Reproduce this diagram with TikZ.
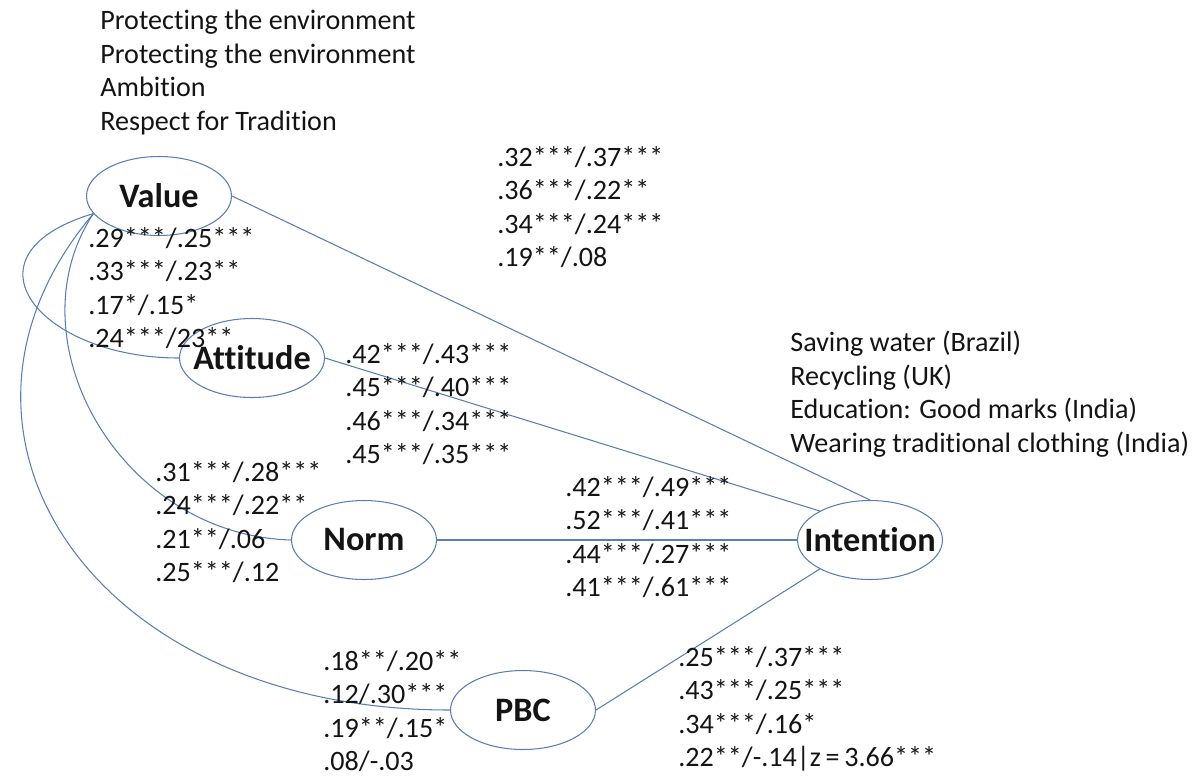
\documentclass[tikz,border=0pt]{standalone}
\usepackage{fontspec}
\setmainfont{Carlito}[Ligatures=NoCommon]
\usetikzlibrary{shapes.geometric,positioning}
\definecolor{linkblue}{HTML}{5A7DB3}
\definecolor{inkdark}{HTML}{141414}

\begin{document}
\begin{tikzpicture}[x=0.02cm,y=-0.02cm,
			lat/.style={draw=linkblue,line width=0.6pt,ellipse,minimum width=2.9cm,minimum height=1.58cm,inner sep=0pt},
			latname/.style={font=\fontsize{19.5}{22}\selectfont\bfseries,text=inkdark,inner sep=0pt},
			coef/.style={align=left,anchor=north west,inner sep=0pt,text=inkdark,font=\fontsize{16}{19}\selectfont},
			rel/.style={draw=linkblue,line width=0.6pt}
			]
			\useasboundingbox (0,0) rectangle (1204,775);
			% constructs
			\node[lat,label={[latname]center:Value}] (val) at (159,196) {};
			\node[lat,label={[latname]center:Attitude}] (att) at (252,358) {};
			\node[lat,label={[latname]center:Norm}] (nor) at (364,540) {};
			\node[lat,label={[latname]center:PBC}] (pbc) at (523,710) {};
			\node[lat,label={[latname]center:Intention}] (int) at (870,540) {};
			% paths
			\draw[rel] (val.east)--(int.north);
			\draw[rel] (att.east)--(int.150);
			\draw[rel] (nor.east)--(int.west);
			\draw[rel] (pbc.east)--(int.210);
			\draw[rel] (val.195) .. controls (-45,255) and (40,358) .. (att.west);
			\draw[rel] (val.195) .. controls (10,340) and (120,535) .. (nor.west);
			\draw[rel] (val.195) .. controls (-90,430) and (90,710) .. (pbc.west);
			% values and behaviours
			\node[coef] (vals) at (100,10) {Protecting the environment\\Protecting the environment\\Ambition\\Respect for Tradition};
			\node[coef] (behs) at (790,331) {Saving water (Brazil)\\Recycling (UK)\\Education: Good marks (India)\\Wearing traditional clothing (India)};
			% coefficients
			\node[coef] (cvi) at (497,146) {.32***/.37***\\.36***/.22**\\.34***/.24***\\.19**/.08};
			\node[coef] (cva) at (88,227) {.29***/.25***\\.33***/.23**\\.17*/.15*\\.24***/23**};
			\node[coef] (cai) at (345,343) {.42***/.43***\\.45***/.40***\\.46***/.34***\\.45***/.35***};
			\node[coef] (cvn) at (155,461) {.31***/.28***\\.24***/.22**\\.21**/.06\\.25***/.12};
			\node[coef] (cni) at (565,476) {.42***/.49***\\.52***/.41***\\.44***/.27***\\.41***/.61***};
			\node[coef] (cvp) at (323,650) {.18**/.20**\\.12/.30***\\.19**/.15*\\.08/-.03};
			\node[coef] (cpi) at (678,646) {.25***/.37***\\.43***/.25***\\.34***/.16*\\.22**/-.14|z\,=\,3.66***};
		\end{tikzpicture}
\end{document}
